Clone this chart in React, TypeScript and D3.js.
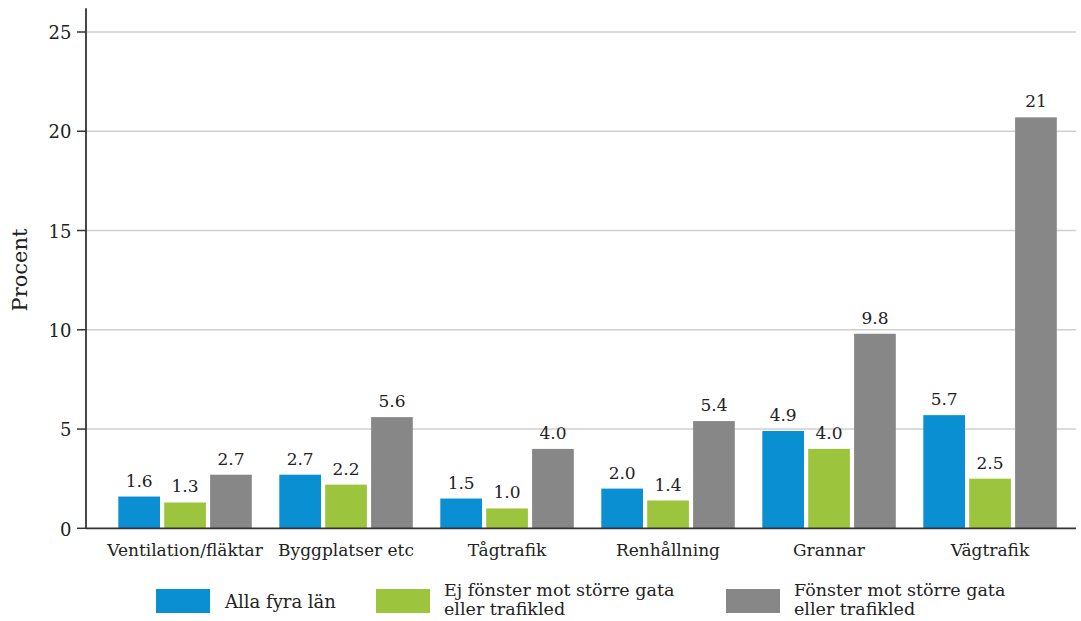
import React from "react";
import * as d3 from "d3";

const categories = ["Ventilation/fläktar", "Byggplatser etc", "Tågtrafik", "Renhållning", "Grannar", "Vägtrafik"];
const seriesNames = ["Alla fyra län", "Ej fönster mot större gata eller trafikled", "Fönster mot större gata eller trafikled"];
const seriesLegendLines = [["Alla fyra län"], ["Ej fönster mot större gata", "eller trafikled"], ["Fönster mot större gata", "eller trafikled"]];
const allaFyraLan = [1.6, 2.7, 1.5, 2.0, 4.9, 5.7];
const ejFonster = [1.3, 2.2, 1.0, 1.4, 4.0, 2.5];
const fonster = [2.7, 5.6, 4.0, 5.4, 9.8, 20.7];
const allaLabels = ["1.6", "2.7", "1.5", "2.0", "4.9", "5.7"];
const ejLabels = ["1.3", "2.2", "1.0", "1.4", "4.0", "2.5"];
const fonsterLabels = ["2.7", "5.6", "4.0", "5.4", "9.8", "21"];
const yTicks = [0, 5, 10, 15, 20, 25];
const colors = ["#0a8fd3", "#9cc43c", "#878787"];

const values = [allaFyraLan, ejFonster, fonster];
const labels = [allaLabels, ejLabels, fonsterLabels];

const FONT = "'DejaVu Serif', Georgia, serif";

export default function App() {
  const W = 1081, H = 621;
  const axisX = 86;
  const y = d3.scaleLinear().domain([0, 25]).range([528.3, 32]);
  const x0 = d3.scaleBand<string>().domain(categories).range([104.5, 1070.5]).paddingInner(0).paddingOuter(0);
  const x1 = d3.scaleBand<number>().domain([0, 1, 2]).range([13.8, 147.3]).paddingInner(0.0915).paddingOuter(0);
  const gridRight = 1076;
  const legendX = [156, 376, 726];

  return (
    <svg width={W} height={H} style={{ position: "absolute", left: 0, top: 0, background: "#fff" }} fontFamily={FONT}>
      {yTicks.filter(t => t > 0).map(t => (
        <line key={"g" + t} x1={axisX} x2={gridRight} y1={y(t)} y2={y(t)} stroke="#cfcfcf" strokeWidth={1.5} />
      ))}
      {categories.map((c, i) => (
        <g key={c} transform={`translate(${x0(c)},0)`}>
          {values.map((s, k) => (
            <g key={k}>
              <rect x={x1(k)} y={y(s[i])} width={x1.bandwidth()} height={y(0) - y(s[i])} fill={colors[k]} />
              <text x={(x1(k) as number) + x1.bandwidth() / 2} y={y(s[i]) - 10} textAnchor="middle" fontSize={17} fill="#222">
                {labels[k][i]}
              </text>
            </g>
          ))}
          <text x={x0.bandwidth() / 2} y={555.5} textAnchor="middle" fontSize={17} fill="#222">{c}</text>
        </g>
      ))}
      <line x1={axisX} x2={gridRight} y1={y(0)} y2={y(0)} stroke="#333" strokeWidth={1.8} />
      <line x1={axisX} x2={axisX} y1={y(26.2)} y2={y(0)} stroke="#333" strokeWidth={1.8} />
      {yTicks.map(t => (
        <g key={"t" + t}>
          <line x1={77} x2={axisX} y1={y(t)} y2={y(t)} stroke="#333" strokeWidth={1.5} />
          <text x={71.5} y={y(t)} dy="0.4em" textAnchor="end" fontSize={18} fill="#222">{t}</text>
        </g>
      ))}
      <text transform={`translate(27,270) rotate(-90)`} textAnchor="middle" fontSize={21} fill="#222">Procent</text>
      {seriesNames.map((n, k) => (
        <g key={n}>
          <rect x={legendX[k]} y={589} width={54} height={24} fill={colors[k]} />
          {seriesLegendLines[k].length === 1 ? (
            <text x={legendX[k] + 69} y={608} fontSize={18} fill="#222">{seriesLegendLines[k][0]}</text>
          ) : (
            seriesLegendLines[k].map((ln, j) => (
              <text key={j} x={legendX[k] + 68} y={595.5 + j * 19.5} fontSize={17.5} fill="#222">{ln}</text>
            ))
          )}
        </g>
      ))}
    </svg>
  );
}
